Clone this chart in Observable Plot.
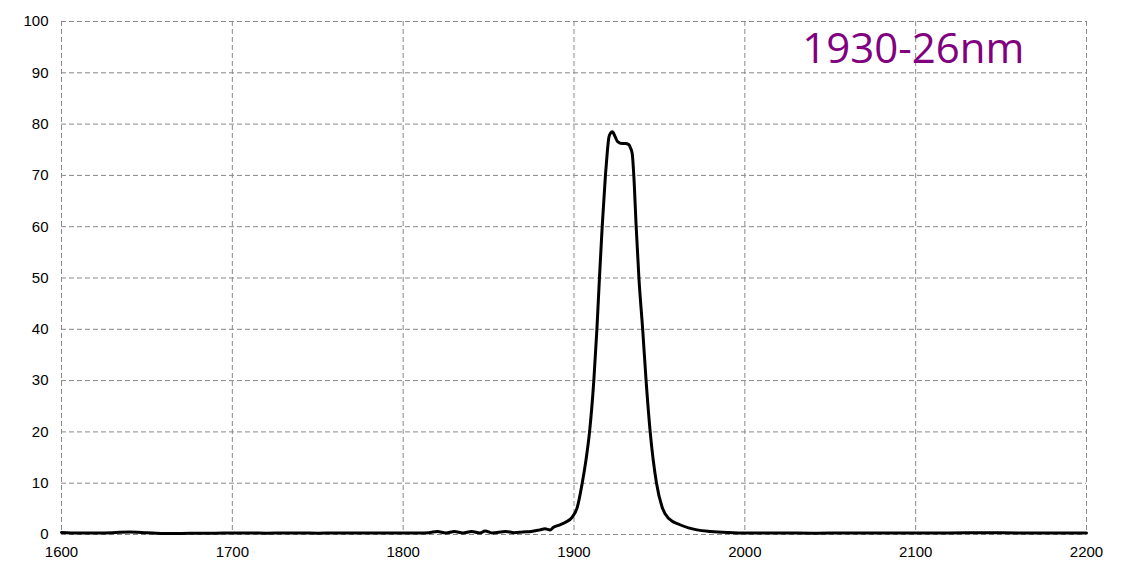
<!DOCTYPE html>
<html>
<head>
<meta charset="utf-8">
<script src="https://cdn.jsdelivr.net/npm/d3@7"></script>
<script src="https://cdn.jsdelivr.net/npm/@observablehq/plot@0.6"></script>
<style>
  html, body { margin: 0; padding: 0; background: #fff; }
  #chart { width: 1129px; height: 583px; }
</style>
</head>
<body>
<div id="chart"></div>
<script>
const wavelength = [
  1600, 1610, 1620, 1630, 1640, 1650, 1660, 1670, 1680, 1690,
  1700, 1710, 1720, 1730, 1740, 1750, 1760, 1770, 1780, 1790,
  1800, 1810, 1815, 1820, 1825, 1830, 1835, 1840, 1845, 1848,
  1852, 1860, 1865, 1870, 1875, 1880, 1883, 1886, 1888, 1891,
  1895, 1899, 1901.9, 1904.8, 1907, 1909.1, 1911.6, 1913.4, 1914.9, 1916.5,
  1918.4, 1919.4, 1920.4, 1921.3, 1922.5, 1924, 1925.5, 1928.2, 1930, 1932.1,
  1933, 1934.1, 1935, 1936.4, 1938, 1940.2, 1942.2, 1944.6, 1948.3, 1951.6,
  1955.5, 1962, 1967, 1972, 1980, 1990, 2000, 2020, 2040, 2060,
  2080, 2100, 2120, 2140, 2160, 2180, 2200
];
const transmission = [
  0.4, 0.3, 0.3, 0.35, 0.5, 0.35, 0.2, 0.2, 0.25, 0.25,
  0.3, 0.3, 0.25, 0.3, 0.3, 0.25, 0.3, 0.3, 0.3, 0.3,
  0.3, 0.3, 0.35, 0.6, 0.3, 0.6, 0.3, 0.6, 0.3, 0.7,
  0.3, 0.6, 0.35, 0.5, 0.6, 0.9, 1.1, 0.9, 1.4, 1.8,
  2.4, 3.4, 5.3, 10, 14.5, 20, 30, 40, 50, 60,
  70, 74.2, 77.4, 78.2, 78.5, 77.6, 76.6, 76.2, 76.2, 76.0,
  75.4, 74.2, 70, 60, 50, 40, 30, 20, 10, 5.3,
  3.1, 1.9, 1.3, 0.9, 0.6, 0.4, 0.3, 0.3, 0.25, 0.3,
  0.3, 0.3, 0.3, 0.35, 0.3, 0.3, 0.3
];
const xTicks = [1600, 1700, 1800, 1900, 2000, 2100, 2200];
const yTicks = [0, 10, 20, 30, 40, 50, 60, 70, 80, 90, 100];
const label = "1930-26nm";

const data = wavelength.map((w, i) => ({w, t: transmission[i]}));

const gridStyle = {stroke: "#888", strokeWidth: 1, strokeDasharray: "5,3"};

const chart = Plot.plot({
  width: 1129,
  height: 583,
  marginLeft: 61,
  marginRight: 43,
  marginTop: 21,
  marginBottom: 49,
  style: {fontFamily: "'Liberation Sans', Arial, sans-serif", fontSize: "15px", color: "#000", background: "#fff"},
  x: {domain: [1600, 2200]},
  y: {domain: [0, 100]},
  marks: [
    Plot.ruleX(xTicks, {x: d => d, ...gridStyle}),
    Plot.ruleY(yTicks, {y: d => d, ...gridStyle}),
    Plot.line(data, {x: "w", y: "t", stroke: "#000", strokeWidth: 3, curve: "monotone-x"}),
    Plot.axisX({ticks: xTicks, tickSize: 0, tickPadding: 12, tickFormat: d => String(d), label: null, fontSize: 15, fill: "#000"}),
    Plot.axisY({ticks: yTicks, tickSize: 0, tickPadding: 13, tickFormat: d => String(d), label: null, fontSize: 15, fill: "#000"}),
    Plot.text([label], {text: d => d, frameAnchor: "top-right", textAnchor: "end", lineAnchor: "middle", dx: -62, dy: 28, fontSize: 42, fill: "#800080", fontFamily: "'Open Sans', 'Noto Sans', sans-serif"})
  ]
});
document.getElementById("chart").appendChild(chart);
</script>
</body>
</html>
